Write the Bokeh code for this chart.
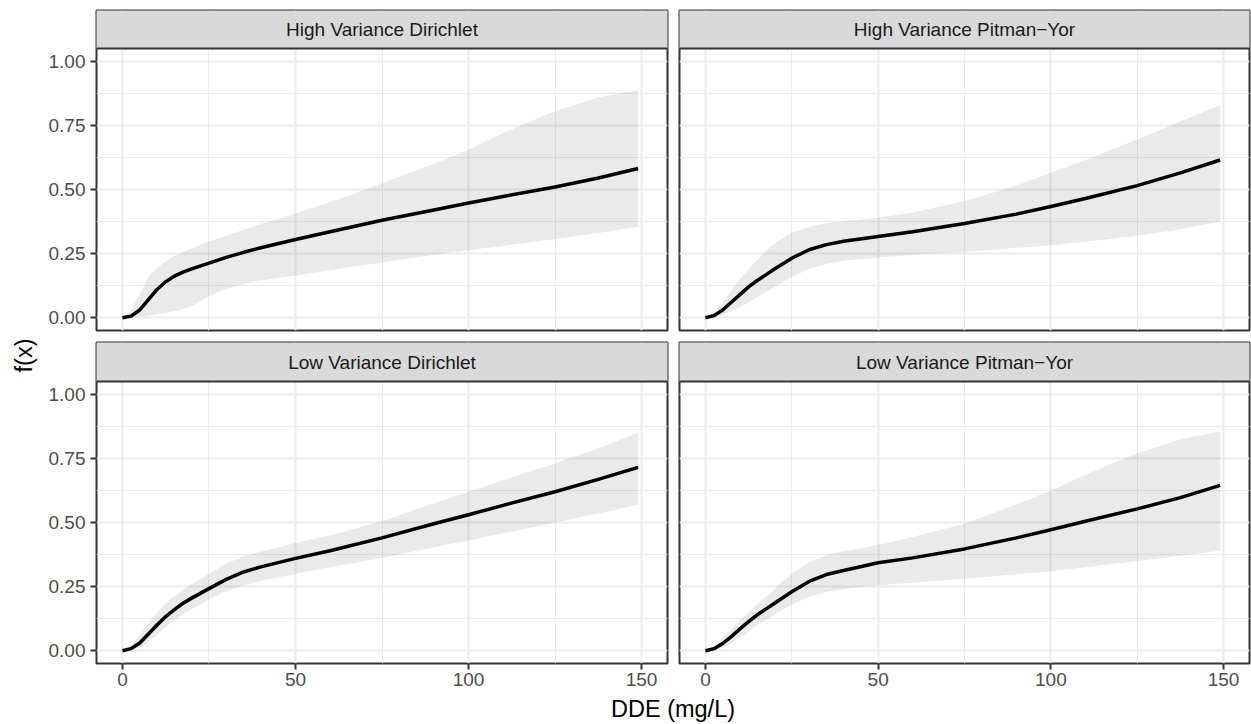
import math
from bokeh.plotting import figure
from bokeh.layouts import row, column
from bokeh.models import Range1d, FixedTicker, NumeralTickFormatter, Span
from bokeh.core.properties import value
from bokeh.embed import file_html
from bokeh.resources import INLINE

# ---------------- data ----------------
panel_names = ["High Variance Dirichlet", "High Variance Pitman\u2212Yor",
               "Low Variance Dirichlet", "Low Variance Pitman\u2212Yor"]

dde = [0, 2.5, 5, 7.5, 10, 12.5, 15, 17.5, 20, 25, 30, 35, 40, 50, 60, 75, 90, 100, 110, 125, 137.5, 149]

hvd_mean = [0, 0.006, 0.03, 0.07, 0.11, 0.14, 0.162, 0.178, 0.19, 0.213, 0.235, 0.255, 0.273, 0.305, 0.335, 0.38, 0.42, 0.447, 0.473, 0.51, 0.545, 0.582]
hvd_upper = [0, 0.03, 0.09, 0.16, 0.195, 0.22, 0.24, 0.255, 0.27, 0.297, 0.32, 0.343, 0.365, 0.405, 0.45, 0.523, 0.6, 0.655, 0.72, 0.805, 0.86, 0.887]
hvd_lower = [0, 0.001, 0.004, 0.008, 0.013, 0.018, 0.025, 0.033, 0.045, 0.085, 0.113, 0.13, 0.145, 0.165, 0.185, 0.215, 0.245, 0.263, 0.28, 0.307, 0.33, 0.355]

hvp_mean = [0, 0.008, 0.03, 0.06, 0.09, 0.12, 0.145, 0.167, 0.19, 0.232, 0.265, 0.285, 0.298, 0.317, 0.335, 0.367, 0.404, 0.434, 0.465, 0.515, 0.565, 0.615]
hvp_upper = [0, 0.02, 0.06, 0.105, 0.15, 0.19, 0.225, 0.26, 0.29, 0.33, 0.355, 0.368, 0.376, 0.39, 0.41, 0.455, 0.515, 0.565, 0.615, 0.695, 0.765, 0.83]
hvp_lower = [0, 0.002, 0.01, 0.025, 0.04, 0.06, 0.08, 0.1, 0.12, 0.16, 0.19, 0.21, 0.222, 0.235, 0.245, 0.257, 0.272, 0.283, 0.296, 0.32, 0.345, 0.375]

lvd_mean = [0, 0.008, 0.03, 0.065, 0.1, 0.133, 0.16, 0.185, 0.205, 0.242, 0.278, 0.307, 0.327, 0.36, 0.39, 0.44, 0.495, 0.53, 0.567, 0.62, 0.668, 0.715]
lvd_upper = [0, 0.02, 0.06, 0.105, 0.15, 0.185, 0.213, 0.238, 0.26, 0.3, 0.34, 0.368, 0.387, 0.42, 0.45, 0.505, 0.575, 0.62, 0.665, 0.73, 0.79, 0.85]
lvd_lower = [0, 0.002, 0.012, 0.035, 0.062, 0.092, 0.12, 0.142, 0.162, 0.2, 0.232, 0.255, 0.272, 0.3, 0.325, 0.362, 0.403, 0.43, 0.458, 0.5, 0.535, 0.57]

lvp_mean = [0, 0.008, 0.028, 0.055, 0.085, 0.113, 0.14, 0.162, 0.185, 0.23, 0.27, 0.297, 0.313, 0.343, 0.362, 0.397, 0.44, 0.472, 0.505, 0.553, 0.597, 0.645]
lvp_upper = [0, 0.018, 0.05, 0.085, 0.12, 0.15, 0.18, 0.21, 0.24, 0.3, 0.345, 0.372, 0.388, 0.412, 0.443, 0.495, 0.57, 0.625, 0.685, 0.77, 0.825, 0.855]
lvp_lower = [0, 0.002, 0.01, 0.03, 0.05, 0.075, 0.1, 0.12, 0.14, 0.18, 0.21, 0.23, 0.24, 0.255, 0.265, 0.281, 0.298, 0.31, 0.325, 0.35, 0.37, 0.39]

x_ticks = [0, 50, 100, 150]
x_minor = [25, 75, 125]
y_ticks = [0, 0.25, 0.5, 0.75, 1]
y_minor = [0.125, 0.375, 0.625, 0.875]

x_title = "DDE (mg/L)"
y_title = "f(x)"

panels = [
    (panel_names[0], hvd_mean, hvd_lower, hvd_upper),
    (panel_names[1], hvp_mean, hvp_lower, hvp_upper),
    (panel_names[2], lvd_mean, lvd_lower, lvd_upper),
    (panel_names[3], lvp_mean, lvp_lower, lvp_upper),
]

# ---------------- style ----------------
FONT = "Liberation Sans"
TICK_SIZE = "19px"
TITLE_SIZE = "23.5px"
BORDER = "#333333"
GRID = "#EBEBEB"
STRIP_FILL = "#D9D9D9"
X_LO, X_HI = -7.5, 157.5
Y_LO, Y_HI = -0.05, 1.05
PANEL_PX = 282


def make_panel(idx, name, mean, lower, upper):
    top_row = idx < 2
    left_col = idx % 2 == 0
    width = 633 if left_col else 578
    height = 336 if top_row else 357
    mb_left = 56 if left_col else 6
    mb_right = 6 if left_col else 2
    mb_top = 10 if top_row else 6
    mb_bottom = 6 if top_row else 30
    frame_h = height - mb_top - mb_bottom
    strip_px = frame_h - PANEL_PX
    per_px = (Y_HI - Y_LO) / PANEL_PX
    y_top = Y_HI + strip_px * per_px

    p = figure(width=width, height=height, output_backend="svg", toolbar_location=None,
               title=None,
               x_range=Range1d(X_LO, X_HI), y_range=Range1d(Y_LO, y_top),
               x_axis_location=None if top_row else "below",
               y_axis_location="left" if left_col else None,
               min_border_left=mb_left, min_border_right=mb_right,
               min_border_top=mb_top, min_border_bottom=mb_bottom)
    p.background_fill_color = "white"
    p.border_fill_color = "white"
    p.outline_line_color = BORDER
    p.outline_line_width = 2

    for g in p.xgrid:
        g.ticker = FixedTicker(ticks=x_ticks, minor_ticks=x_minor)
        g.grid_line_color = GRID
        g.grid_line_width = 2
        g.minor_grid_line_color = GRID
        g.minor_grid_line_width = 1
    for g in p.ygrid:
        g.ticker = FixedTicker(ticks=y_ticks, minor_ticks=y_minor)
        g.grid_line_color = GRID
        g.grid_line_width = 2
        g.minor_grid_line_color = GRID
        g.minor_grid_line_width = 1

    for ax in p.xaxis:
        ax.ticker = FixedTicker(ticks=x_ticks)
        ax.axis_line_color = None
        ax.major_tick_line_color = BORDER
        ax.major_tick_line_width = 2
        ax.major_tick_out = 6
        ax.major_tick_in = 0
        ax.minor_tick_line_color = None
        ax.major_label_text_font = FONT
        ax.major_label_text_font_size = TICK_SIZE
        ax.major_label_text_color = "#4D4D4D"
        ax.major_label_standoff = 3
    for ax in p.yaxis:
        ax.ticker = FixedTicker(ticks=y_ticks)
        ax.formatter = NumeralTickFormatter(format="0.00")
        ax.axis_line_color = None
        ax.major_tick_line_color = BORDER
        ax.major_tick_line_width = 2
        ax.major_tick_out = 6
        ax.major_tick_in = 0
        ax.minor_tick_line_color = None
        ax.major_label_text_font = FONT
        ax.major_label_text_font_size = TICK_SIZE
        ax.major_label_text_color = "#4D4D4D"
        ax.major_label_standoff = 5

    # ribbon and mean curve
    p.varea(x=dde, y1=lower, y2=upper, fill_color="#333333", fill_alpha=0.1)
    p.line(x=dde, y=mean, line_color="black", line_width=3.5, line_join="round", line_cap="butt")

    # strip
    p.quad(left=[X_LO - 20], right=[X_HI + 20], bottom=[Y_HI], top=[y_top + 1],
           fill_color=STRIP_FILL, line_color=None)
    p.add_layout(Span(location=Y_HI, dimension="width", line_color=BORDER, line_width=2))
    p.text(x=[(X_LO + X_HI) / 2], y=[(Y_HI + y_top) / 2], text=[name],
           text_font=value(FONT), text_font_size=value(TICK_SIZE),
           text_color="#1A1A1A", text_align="center", text_baseline="middle")
    return p


figs = [make_panel(i, *pn) for i, pn in enumerate(panels)]

# y title
yf = figure(width=40, height=693, output_backend="svg", toolbar_location=None, title=None,
            x_range=Range1d(0, 40), y_range=Range1d(0, 693),
            x_axis_location=None, y_axis_location=None,
            min_border=0, min_border_left=0, min_border_right=0, min_border_top=0, min_border_bottom=0)
yf.outline_line_color = None
yf.xgrid.visible = False
yf.ygrid.visible = False
yf.text(x=[23], y=[693 - 355], text=[y_title], angle=math.pi / 2,
        text_font=value(FONT), text_font_size=value(TITLE_SIZE), text_color="black",
        text_align="center", text_baseline="middle")

# x title
xf = figure(width=1251, height=31, output_backend="svg", toolbar_location=None, title=None,
            x_range=Range1d(0, 1251), y_range=Range1d(0, 31),
            x_axis_location=None, y_axis_location=None,
            min_border=0, min_border_left=0, min_border_right=0, min_border_top=0, min_border_bottom=0)
xf.outline_line_color = None
xf.xgrid.visible = False
xf.ygrid.visible = False
xf.text(x=[672.5], y=[31 - 15], text=[x_title],
        text_font=value(FONT), text_font_size=value(TITLE_SIZE), text_color="black",
        text_align="center", text_baseline="middle")

layout = column(row(yf, column(row(figs[0], figs[1]), row(figs[2], figs[3]))), xf)

open("out.html", "w").write(file_html(layout, INLINE))
